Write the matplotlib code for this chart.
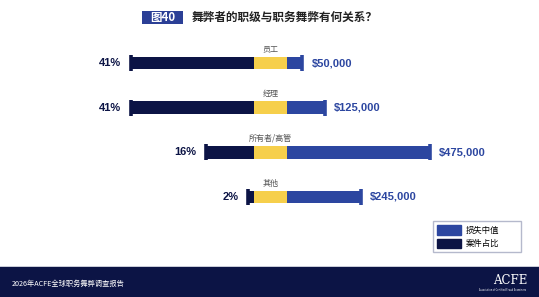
import matplotlib
matplotlib.use("Agg")
import matplotlib.pyplot as plt
from matplotlib.patches import Patch, Rectangle

plt.rcParams['font.family'] = ['Noto Sans CJK SC', 'DejaVu Sans']

# data
levels = ['员工', '经理', '所有者/高管', '其他']
case_pct = [41, 41, 16, 2]
median_loss = [50000, 125000, 475000, 245000]
loss_labels = ['$50,000', '$125,000', '$475,000', '$245,000']

NAVY = '#0c1445'
YELLOW = '#f6cf4b'
BLUE = '#2c46a0'
NUM_FONT = ['Liberation Sans Narrow', 'Liberation Sans', 'DejaVu Sans']

W, H = 539, 297
fig = plt.figure(figsize=(W / 100, H / 100), dpi=100)
fig.patch.set_facecolor('white')


def frac(x0, y0, x1, y1):
    # pixel box -> figure fraction
    return [x0 / W, 1 - y1 / H, (x1 - x0) / W, (y1 - y0) / H]


rows = range(len(levels))
ylim = (3.515, -0.515)
bar_h = 0.29

# left: share of cases (grows leftwards)
ax_l = fig.add_axes(frac(100, 40, 254, 220))
ax_l.barh(rows, case_pct, height=bar_h, color=NAVY)
ax_l.plot(case_pct, rows, ls='none', marker='|', ms=11.5, mew=2.6, color=NAVY)
for i, p in enumerate(case_pct):
    ax_l.annotate(f'{p}%', (p, i), xytext=(-7, 0), textcoords='offset points',
                  ha='right', va='center', fontsize=8, fontweight='bold',
                  color=NAVY, family=NUM_FONT)
ax_l.set_xlim(154 / 3, 0)

# middle: yellow band + category labels
ax_m = fig.add_axes(frac(254, 40, 287, 220))
ax_m.barh(rows, [1] * len(levels), height=bar_h, color=YELLOW)
for i, name in enumerate(levels):
    ax_m.text(0.5, i - 0.31, name, ha='center', va='center', fontsize=5.8,
              color='#555555')
ax_m.set_xlim(0, 1)

# right: median loss
ax_r = fig.add_axes(frac(287, 40, 539, 220))
ax_r.barh(rows, median_loss, height=bar_h, color=BLUE)
ax_r.plot(median_loss, rows, ls='none', marker='|', ms=11.5, mew=2.6, color=BLUE)
for i, (v, lab) in enumerate(zip(median_loss, loss_labels)):
    ax_r.annotate(lab, (v, i), xytext=(7, 0), textcoords='offset points',
                  ha='left', va='center', fontsize=8, fontweight='bold',
                  color=BLUE, family=NUM_FONT)
ax_r.set_xlim(0, 252 / 0.3 * 1000)

for ax in (ax_l, ax_m, ax_r):
    ax.set_ylim(*ylim)
    ax.axis('off')

# title
fig.add_artist(Rectangle((142 / W, 1 - 24 / H), 41 / W, 13 / H,
                         transform=fig.transFigure, fc='#2b3f96', ec='none',
                         zorder=0))
fig.text(162.5 / W, 1 - 17.5 / H, '图40', ha='center', va='center', fontsize=8.3,
         fontweight='bold', color='white')
fig.text(192 / W, 1 - 17.5 / H, '舞弊者的职级与职务舞弊有何关系？', ha='left',
         va='center', fontsize=8.4, fontweight='bold', color='#222222')

# legend
fig.legend(handles=[Patch(fc=BLUE, ec=BLUE, label='损失中值'),
                    Patch(fc=NAVY, ec=NAVY, label='案件占比')],
           loc='upper left', bbox_to_anchor=(433 / W, 1 - 260 / H, 88 / W, 39 / H),
           mode='expand',
           frameon=True, fancybox=False, edgecolor='#a3a8c0', fontsize=6,
           handlelength=2.9, handleheight=1.4, labelspacing=0.45,
           borderpad=0.5, handletextpad=0.5, borderaxespad=0)

# footer band
fig.add_artist(Rectangle((0, 0), 1, 30 / H, transform=fig.transFigure,
                         fc=NAVY, ec='none'))
fig.add_artist(Rectangle((0, 30 / H), 1, 1.2 / H, transform=fig.transFigure,
                         fc='#c9ccd8', ec='none'))
fig.text(12 / W, 1 - 284 / H, '2026年ACFE全球职务舞弊调查报告', ha='left',
         va='center', fontsize=5.2, color='white')
fig.text(510 / W, 1 - 281 / H, 'ACFE', ha='center', va='center', fontsize=8.5,
         color='white', family=['DejaVu Serif'])
fig.text(503 / W, 1 - 290 / H, 'Association of Certified Fraud Examiners',
         ha='center', va='center', fontsize=1.8, color='white')

fig.savefig('out.png', dpi=100)
